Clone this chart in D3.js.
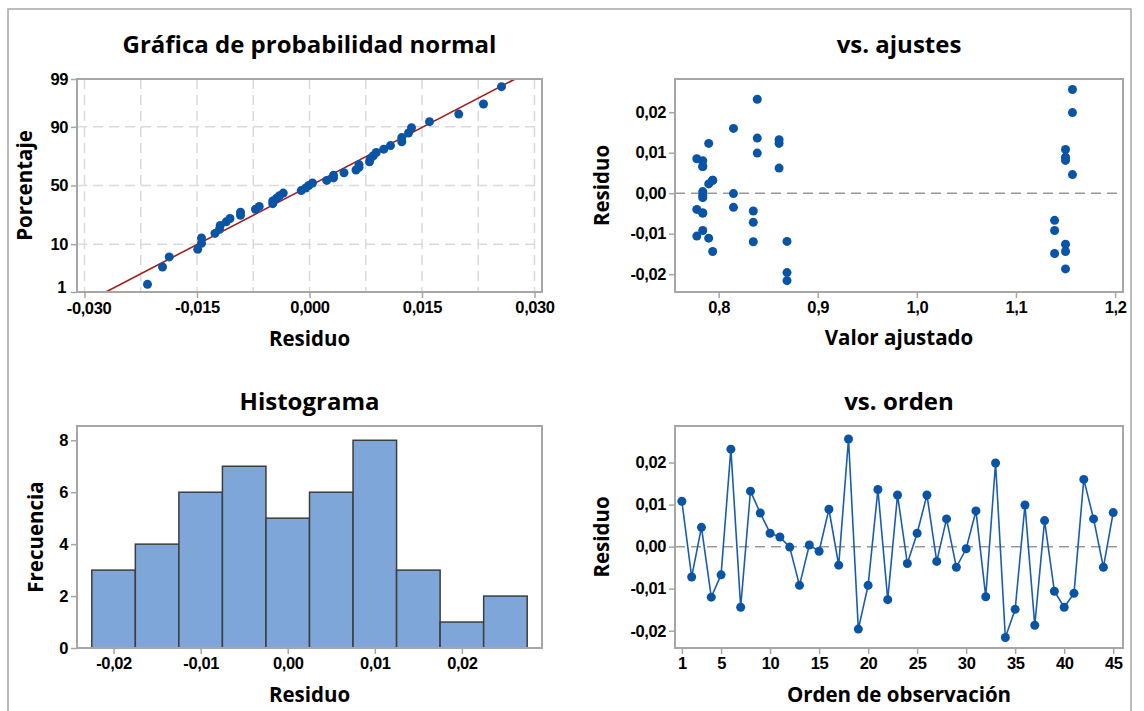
<!DOCTYPE html>
<meta charset="utf-8">
<style>
body { margin: 0; background: #fff; }
svg { font-family: "Open Sans", sans-serif; }
.frame { fill: none; stroke: #a6a6a6; stroke-width: 1.5; }
.box { fill: none; stroke: #a6a6a6; stroke-width: 2; }
.axis path { display: none; }
.axis line { stroke: #a6a6a6; stroke-width: 1.5; }
.axis text { font-size: 16.5px; font-weight: bold; fill: #000; letter-spacing: -0.4px; }
.title { font-size: 24px; font-weight: bold; text-anchor: middle; }
.label { font-size: 20.5px; font-weight: bold; text-anchor: middle; }
.grid line { stroke: #dadada; stroke-width: 1.5; stroke-dasharray: 10,6; }
.ref { stroke: #9a9a9a; stroke-width: 1.5; stroke-dasharray: 10,6; }
.dot { fill: #0a54a6; }
</style>

<svg id="chart" width="1144" height="711"></svg>
<script src="https://d3js.org/d3.v7.min.js"></script>
<script>
var residuo = [0.0108, -0.0072, 0.0046, -0.0120, -0.0067, 0.0232, -0.0144, 0.0132, 0.0080, 0.0032,
  0.0023, -0.0001, -0.0092, 0.0004, -0.0011, 0.0089, -0.0044, 0.0256, -0.0196, -0.0092,
  0.0136, -0.0126, 0.0123, -0.0040, 0.0032, 0.0123, -0.0035, 0.0066, -0.0049, -0.0005,
  0.0085, -0.0119, 0.0199, -0.0216, -0.0149, 0.0099, -0.0187, 0.0062, -0.0106, -0.0144,
  -0.0111, 0.0160, 0.0066, -0.0049, 0.0081];

// valores ajustados de cada observacion
var ajuste = [1.150, 0.835, 1.157, 0.835, 1.139, 0.839, 0.794, 0.861, 0.784, 0.794,
  0.790, 0.815, 1.139, 0.784, 0.784, 1.150, 0.835, 1.157, 0.869, 0.784,
  0.839, 1.150, 0.790, 0.778, 0.794, 0.861, 0.815, 0.784, 0.784, 0.784,
  0.778, 0.869, 1.157, 0.869, 1.139, 0.839, 1.150, 0.861, 0.778, 1.150,
  0.790, 0.815, 0.784, 0.784, 1.150];

var orden = d3.range(1, residuo.length + 1);

// histograma
var hist_centro = [-0.020, -0.015, -0.010, -0.005, 0.000, 0.005, 0.010, 0.015, 0.020, 0.025];
var hist_frec = [3, 4, 6, 7, 5, 6, 8, 3, 1, 2];
var hist_ancho = 0.005;

// ticks
var prob_ticks = [1, 10, 50, 90, 99];
var prob_xticks = [-0.030, -0.015, 0.000, 0.015, 0.030];
var res_ticks = [-0.02, -0.01, 0.00, 0.01, 0.02];
var ajuste_ticks = [0.8, 0.9, 1.0, 1.1, 1.2];
var frec_ticks = [0, 2, 4, 6, 8];
var orden_ticks = [1, 5, 10, 15, 20, 25, 30, 35, 40, 45];

var es = d3.formatLocale({decimal: ",", thousands: ".", grouping: [3], currency: ["", " €"], minus: "-"});

// inversa de la normal (Acklam)
function qnorm(p) {
  var a = [-39.69683028665376, 220.9460984245205, -275.9285104469687, 138.3577518672690, -30.66479806614716, 2.506628277459239],
      b = [-54.47609879822406, 161.5858368580409, -155.6989798598866, 66.80131188771972, -13.28068155288572],
      c = [-0.007784894002430293, -0.3223964580411365, -2.400758277161838, -2.549732539343734, 4.374664141464968, 2.938163982698783],
      d = [0.007784695709041462, 0.3224671290700398, 2.445134137142996, 3.754408661907416];
  var q, r;
  if (p < 0.02425) {
    q = Math.sqrt(-2 * Math.log(p));
    return (((((c[0]*q+c[1])*q+c[2])*q+c[3])*q+c[4])*q+c[5]) / ((((d[0]*q+d[1])*q+d[2])*q+d[3])*q+1);
  }
  if (p > 1 - 0.02425) {
    q = Math.sqrt(-2 * Math.log(1 - p));
    return -(((((c[0]*q+c[1])*q+c[2])*q+c[3])*q+c[4])*q+c[5]) / ((((d[0]*q+d[1])*q+d[2])*q+d[3])*q+1);
  }
  q = p - 0.5; r = q * q;
  return (((((a[0]*r+a[1])*r+a[2])*r+a[3])*r+a[4])*r+a[5])*q / (((((b[0]*r+b[1])*r+b[2])*r+b[3])*r+b[4])*r+1);
}

var svg = d3.select("#chart");

svg.append("rect").attr("class", "frame")
  .attr("x", 8).attr("y", 9).attr("width", 1123).attr("height", 720);

// cajas de cada panel
var L = {left: 77, right: 542}, R = {left: 675, right: 1123},
    T = {top: 79, bottom: 292}, B = {top: 426, bottom: 648};

function caja(h, v) {
  svg.append("rect").attr("class", "box")
    .attr("x", h.left).attr("y", v.top)
    .attr("width", h.right - h.left).attr("height", v.bottom - v.top);
}

function titulos(h, v, titulo, xlab, ylab, yt, xb, yx) {
  var cx = (h.left + h.right) / 2, cy = (v.top + v.bottom) / 2;
  svg.append("text").attr("class", "title").attr("x", cx).attr("y", yt).text(titulo);
  svg.append("text").attr("class", "label").attr("x", cx).attr("y", xb).text(xlab);
  svg.append("text").attr("class", "label")
    .attr("transform", "translate(" + yx + "," + cy + ") rotate(-90)").text(ylab);
}

function ejes(h, v, x, y, xa, ya) {
  var gx = svg.append("g").attr("class", "axis")
    .attr("transform", "translate(0," + v.bottom + ")")
    .call(xa.tickSizeOuter(0).tickSize(6).tickPadding(3));
  var gy = svg.append("g").attr("class", "axis")
    .attr("transform", "translate(" + h.left + ",0)")
    .call(ya.tickSizeOuter(0).tickSize(6).tickPadding(3));
  return [gx, gy];
}

// ---- Grafica de probabilidad normal ----
(function () {
  var n = residuo.length;
  var x = d3.scaleLinear().domain([-0.031, 0.031]).range([L.left, L.right]);
  var y = d3.scaleLinear().domain([qnorm(0.01), qnorm(0.99)]).range([T.bottom, T.top]);

  var g = svg.append("g").attr("class", "grid");
  g.selectAll(".gv").data(d3.range(-0.030, 0.0301, 0.0075)).enter().append("line")
    .attr("x1", function (d) { return x(d); }).attr("x2", function (d) { return x(d); })
    .attr("y1", T.top).attr("y2", T.bottom);
  g.selectAll(".gh").data([10, 50, 90]).enter().append("line")
    .attr("x1", L.left).attr("x2", L.right)
    .attr("y1", function (d) { return y(qnorm(d / 100)); })
    .attr("y2", function (d) { return y(qnorm(d / 100)); });

  var media = d3.mean(residuo), sd = d3.deviation(residuo);
  var z0 = qnorm(0.01), z1 = qnorm(0.99);
  svg.append("line")
    .attr("x1", x(media + z0 * sd)).attr("y1", y(z0))
    .attr("x2", x(media + z1 * sd)).attr("y2", y(z1))
    .attr("stroke", "#a31f1f").attr("stroke-width", 1.6);

  var ord = residuo.slice().sort(d3.ascending);
  svg.selectAll(".pp").data(ord).enter().append("circle").attr("class", "dot")
    .attr("cx", function (d) { return x(d); })
    .attr("cy", function (d, i) { return y(qnorm((i + 1 - 0.3) / (n + 0.4))); })
    .attr("r", 4.5);

  var ax = ejes(L, T, x, y,
    d3.axisBottom(x).tickValues(prob_xticks).tickFormat(es.format(".3f")),
    d3.axisLeft(y).tickValues(prob_ticks.map(function (p) { return qnorm(p / 100); }))
      .tickFormat(function (d, i) { return prob_ticks[i]; }));
  // el "1" y el "-0,030" quedan muy juntos en la esquina
  ax[1].selectAll(".tick text").filter(function (d, i) { return i === 0; })
    .attr("dy", "0.05em").attr("dx", "-2");
  ax[0].selectAll(".tick text").filter(function (d, i) { return i === 0; })
    .attr("dx", "4").attr("y", 10);
  caja(L, T);
  titulos(L, T, "Gráfica de probabilidad normal", "Residuo", "Porcentaje", 53, 346, 32);
})();

// ---- vs. ajustes ----
(function () {
  var x = d3.scaleLinear().domain([0.756, 1.208]).range([R.left, R.right]);
  var y = d3.scaleLinear().domain([-0.0244, 0.0282]).range([T.bottom, T.top]);

  svg.append("line").attr("class", "ref")
    .attr("x1", R.left).attr("x2", R.right).attr("y1", y(0)).attr("y2", y(0));

  svg.selectAll(".fv").data(residuo).enter().append("circle").attr("class", "dot")
    .attr("cx", function (d, i) { return x(ajuste[i]); })
    .attr("cy", function (d) { return y(d); })
    .attr("r", 4.5);

  ejes(R, T, x, y,
    d3.axisBottom(x).tickValues(ajuste_ticks).tickFormat(es.format(".1f")),
    d3.axisLeft(y).tickValues(res_ticks).tickFormat(es.format(".2f")));
  caja(R, T);
  titulos(R, T, "vs. ajustes", "Valor ajustado", "Residuo", 53, 345, 609);
})();

// ---- Histograma ----
(function () {
  var x = d3.scaleLinear().domain([-0.0242, 0.0292]).range([L.left, L.right]);
  var y = d3.scaleLinear().domain([0, 8.55]).range([B.bottom, B.top]);

  svg.selectAll(".bar").data(hist_frec).enter().append("rect")
    .attr("x", function (d, i) { return x(hist_centro[i] - hist_ancho / 2); })
    .attr("width", x(hist_ancho) - x(0))
    .attr("y", function (d) { return y(d); })
    .attr("height", function (d) { return y(0) - y(d); })
    .attr("fill", "#7ea6d9").attr("stroke", "#3d3d3d").attr("stroke-width", 1.5);

  ejes(L, B, x, y,
    d3.axisBottom(x).tickValues(res_ticks).tickFormat(es.format(".2f")),
    d3.axisLeft(y).tickValues(frec_ticks).tickFormat(d3.format("d")));
  caja(L, B);
  titulos(L, B, "Histograma", "Residuo", "Frecuencia", 410, 702, 43);
})();

// ---- vs. orden ----
(function () {
  var x = d3.scaleLinear().domain([0.3, 46]).range([R.left, R.right]);
  var y = d3.scaleLinear().domain([-0.0241, 0.0287]).range([B.bottom, B.top]);

  svg.append("line").attr("class", "ref")
    .attr("x1", R.left).attr("x2", R.right).attr("y1", y(0)).attr("y2", y(0));

  svg.append("path").datum(residuo)
    .attr("fill", "none").attr("stroke", "#1a5db0").attr("stroke-width", 1.6)
    .attr("d", d3.line().x(function (d, i) { return x(orden[i]); }).y(function (d) { return y(d); }));

  svg.selectAll(".ov").data(residuo).enter().append("circle").attr("class", "dot")
    .attr("cx", function (d, i) { return x(orden[i]); })
    .attr("cy", function (d) { return y(d); })
    .attr("r", 4.5);

  ejes(R, B, x, y,
    d3.axisBottom(x).tickValues(orden_ticks).tickFormat(d3.format("d")),
    d3.axisLeft(y).tickValues(res_ticks).tickFormat(es.format(".2f")));
  caja(R, B);
  titulos(R, B, "vs. orden", "Orden de observación", "Residuo", 410, 702, 609);
})();
</script>
